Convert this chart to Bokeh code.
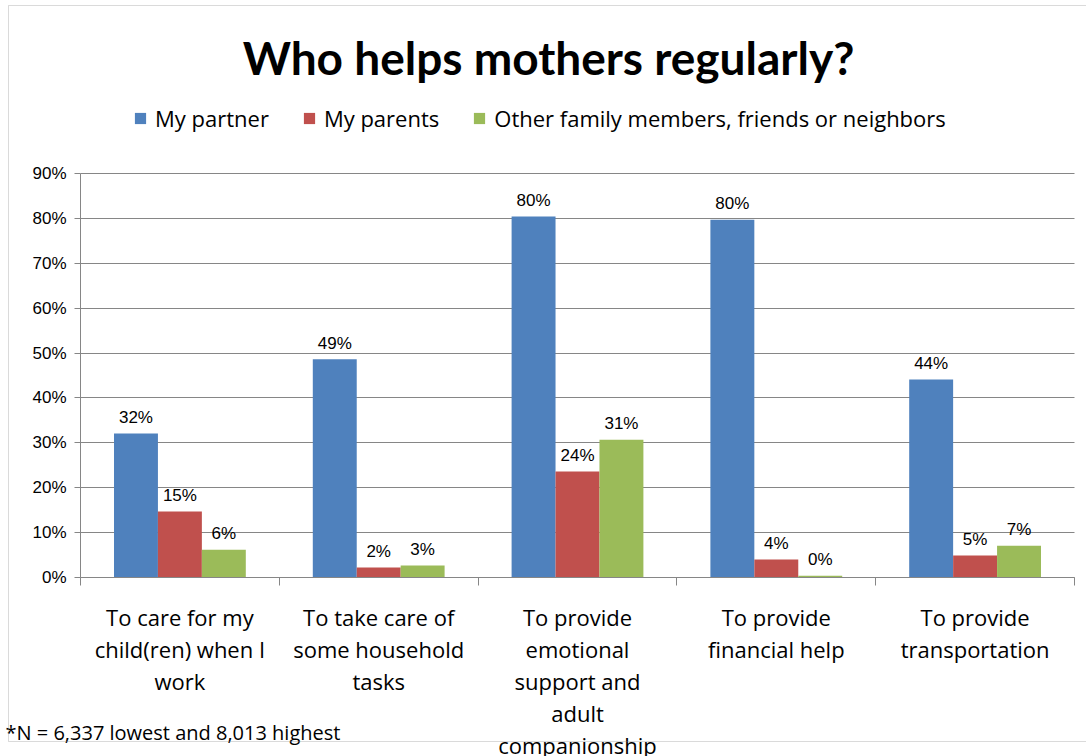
from bokeh.plotting import figure
from bokeh.models import (ColumnDataSource, FixedTicker, Label, Legend, LegendItem,
                          BoxAnnotation, PrintfTickFormatter, Range1d, LinearAxis, Grid)
from bokeh.transform import dodge
from bokeh.core.properties import value
from bokeh.embed import file_html
from bokeh.resources import INLINE

# ---------------- data ----------------
categories = [
    "To care for my\nchild(ren) when I\nwork",
    "To take care of\nsome household\ntasks",
    "To provide\nemotional\nsupport and\nadult\ncompanionship",
    "To provide\nfinancial help",
    "To provide\ntransportation",
]
series_names = ["My partner", "My parents", "Other family members, friends or neighbors"]
my_partner = [32.1, 48.6, 80.4, 79.7, 44.1]
my_parents = [14.7, 2.2, 23.6, 4.0, 4.9]
other_family = [6.2, 2.7, 30.7, 0.4, 7.1]
y_ticks = [0, 10, 20, 30, 40, 50, 60, 70, 80, 90]
title_text = "Who helps mothers regularly?"
footnote = "*N = 6,337 lowest and 8,013 highest"

colors = ["#4F81BD", "#C0504D", "#9BBB59"]
series_values = [my_partner, my_parents, other_family]

n = len(categories)
centers = [i + 0.5 for i in range(n)]
boundaries = [i for i in range(n + 1)]

# ---------------- layout (pixels) ----------------
W, H = 1086, 756
px_left, px_right = 80, 1074      # plot area x extent
px_top, px_bottom = 173, 577      # plot area y extent (90% .. 0%)
ymax = y_ticks[-1]
xs_per_px = n / (px_right - px_left)
ys_per_px = ymax / (px_bottom - px_top)
x_range = Range1d(-px_left * xs_per_px, n + (W - px_right) * xs_per_px)
y_range = Range1d(-(H - px_bottom) * ys_per_px, ymax + px_top * ys_per_px)

p = figure(width=W, height=H, output_backend="svg", toolbar_location=None,
           x_range=x_range, y_range=y_range, min_border=0,
           x_axis_location=None, y_axis_location=None)
p.outline_line_color = None
p.background_fill_color = "white"
p.border_fill_color = "white"
p.xgrid.visible = False
p.ygrid.visible = False

gray = "#868686"

grid = Grid(dimension=1, ticker=FixedTicker(ticks=y_ticks), grid_line_color=gray,
            grid_line_width=1, bounds=(0, ymax), cross_bounds=(0, n))
p.add_layout(grid)

bar_w = 0.221
offsets = [-bar_w, 0.0, bar_w]
items = []
for name, vals, col, off in zip(series_names, series_values, colors, offsets):
    src = ColumnDataSource(dict(x=centers, top=vals,
                                lab=[f"{round(v)}%" for v in vals]))
    r = p.vbar(x=dodge("x", off, range=p.x_range), top="top", width=bar_w,
               source=src, fill_color=col, line_color=None)
    p.text(x=dodge("x", off, range=p.x_range), y="top", text="lab", source=src,
           text_align="center", text_baseline="alphabetic", y_offset=-16,
           text_font=value("Liberation Sans"), text_font_size="17px",
           text_color="#000000")
    items.append(LegendItem(label=name, renderers=[r]))

# axes
yaxis = LinearAxis(fixed_location=0, bounds=(0, ymax))
yaxis.ticker = FixedTicker(ticks=y_ticks)
yaxis.formatter = PrintfTickFormatter(format="%d%%")
yaxis.axis_line_color = gray
yaxis.major_tick_line_color = gray
yaxis.major_tick_out = 6
yaxis.major_tick_in = 0
yaxis.minor_tick_line_color = None
yaxis.major_label_standoff = 8
yaxis.major_label_text_font = "Liberation Sans"
yaxis.major_label_text_font_size = "17px"
yaxis.major_label_text_color = "#000000"
p.add_layout(yaxis, "left")

xaxis = LinearAxis(fixed_location=0, bounds=(0, n))
xaxis.ticker = FixedTicker(ticks=centers, minor_ticks=boundaries)
xaxis.major_label_overrides = {c: lab for c, lab in zip(centers, categories)}
xaxis.axis_line_color = gray
xaxis.major_tick_line_color = None
xaxis.major_tick_out = 8
xaxis.major_tick_in = 0
xaxis.minor_tick_line_color = gray
xaxis.minor_tick_out = 8
xaxis.minor_tick_in = 0
xaxis.major_label_standoff = 16
xaxis.major_label_text_font = "Open Sans"
xaxis.major_label_text_font_size = "22px"
xaxis.major_label_text_line_height = 1.07
xaxis.major_label_text_color = "#000000"
p.add_layout(xaxis, "below")

legend = Legend(items=items, orientation="horizontal", location=(133, 623),
                glyph_width=14, glyph_height=14, label_standoff=8, spacing=33,
                padding=0, margin=0, border_line_color=None,
                background_fill_alpha=0,
                label_text_font="Open Sans", label_text_font_size="22px",
                label_text_color="#000000", label_height=14)
p.add_layout(legend, "center")

p.add_layout(Label(x=548, y=H - 57, x_units="screen", y_units="screen",
                   text=title_text, text_align="center", text_baseline="middle",
                   text_font="Lato", text_font_style="bold", text_font_size="46px",
                   text_color="#000000"))
p.add_layout(Label(x=5, y=H - 732, x_units="screen", y_units="screen",
                   text=footnote, text_align="left", text_baseline="alphabetic",
                   text_font="Open Sans", text_font_size="20px",
                   text_color="#000000"))
p.add_layout(BoxAnnotation(left=8, right=W + 10, top=H - 5, bottom=H - 741,
                           left_units="screen", right_units="screen",
                           top_units="screen", bottom_units="screen",
                           fill_alpha=0, line_color=gray, line_width=1))

open("out.html", "w").write(file_html(p, INLINE))
